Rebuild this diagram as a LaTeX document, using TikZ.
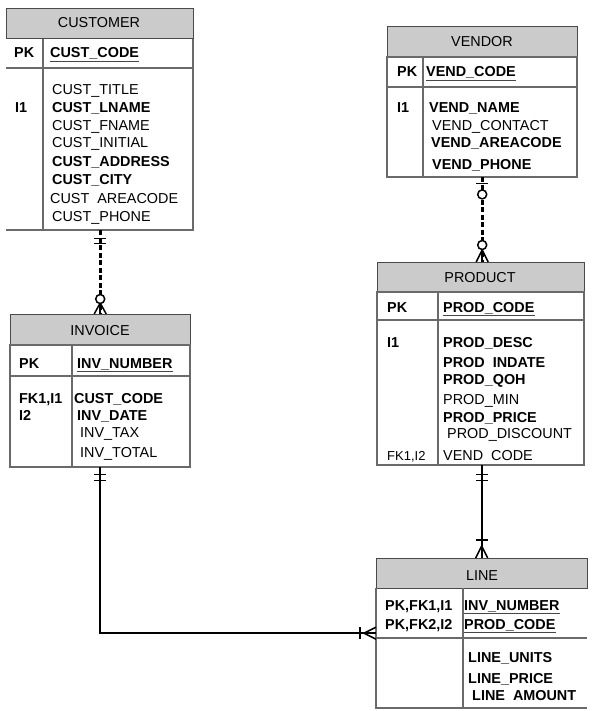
\documentclass[tikz,border=0pt]{standalone}
\usepackage{fontspec}
\setmainfont{Liberation Sans}
\usetikzlibrary{calc}
\definecolor{hdrfill}{HTML}{CBCBCB}
\definecolor{bordc}{HTML}{6A6A6A}
\definecolor{hdrb}{HTML}{4A4A4A}
\begin{document}
\begin{tikzpicture}[x=1pt,y=-1pt,
  fld/.style={anchor=base west, inner sep=0pt, font=\fontsize{14.4}{16}\selectfont},
  bfld/.style={anchor=base west, inner sep=0pt, font=\fontsize{14.4}{16}\selectfont\bfseries},
  sfld/.style={anchor=base west, inner sep=0pt, font=\fontsize{13}{15}\selectfont},
  ttl/.style={anchor=base, inner sep=0pt, font=\fontsize{14.4}{16}\selectfont},
  tframe/.style={draw=none, inner sep=0pt, anchor=north west},
  hdr/.style={fill=hdrfill, draw=hdrb, line width=1pt},
  bord/.style={draw=bordc, line width=1.1pt},
  uline/.style={draw=gray!55!black, line width=1.8pt},
  conn/.style={draw=black, line width=2.4pt},
  dconn/.style={draw=black, line width=2.6pt, dash pattern=on 5pt off 2.5pt},
  mk/.style={draw=black, line width=1.5pt},
  ring/.style={draw=black, line width=1.5pt, fill=white},
  ]
\useasboundingbox[fill=white] (0,0) rectangle (592,711);

% ---------- frames (for connectors) ----------
\node[tframe, minimum width=187pt, minimum height=221pt] (customer) at (6,9) {};
\node[tframe, minimum width=190pt, minimum height=150pt] (vendor) at (387,27) {};
\node[tframe, minimum width=207pt, minimum height=203pt] (product) at (377,262) {};
\node[tframe, minimum width=180pt, minimum height=153pt] (invoice) at (10,314) {};
\node[tframe, minimum width=211pt, minimum height=150pt] (line) at (376,558) {};

% ---------- CUSTOMER ----------
\draw[hdr] (6,9) rectangle (193,39);
\draw[bord] (193,39) -- (193,230) -- (6,230);
\draw[bord] (43,39) -- (43,230);
\draw[bord] (6,68) -- (193,68);
\node[ttl] (c-t) at (99,28) {CUSTOMER};
\node[bfld] (c-pk) at (14,58) {PK};
\node[bfld] (c-code) at (50,58) {CUST\_CODE};
\draw[uline] ([yshift=-3.5pt]c-code.base west) -- ([yshift=-3.5pt]c-code.base east);
\node[bfld] (c-i1) at (15,113) {I1};
\node[fld] (c-f1) at (52,95) {CUST\_TITLE};
\node[bfld] (c-f2) at (52,113) {CUST\_LNAME};
\node[fld] (c-f3) at (52,131) {CUST\_FNAME};
\node[fld] (c-f4) at (52,148) {CUST\_INITIAL};
\node[bfld] (c-f5) at (52,167) {CUST\_ADDRESS};
\node[bfld] (c-f6) at (52,185) {CUST\_CITY};
\node[fld] (c-f7) at (50,204) {CUST\ \ AREACODE};
\node[fld] (c-f8) at (52,222) {CUST\_PHONE};

% ---------- VENDOR ----------
\draw[hdr] (387,27) rectangle (577,57);
\draw[bord] (387,57) rectangle (577,177);
\draw[bord] (423,57) -- (423,177);
\draw[bord] (387,87) -- (577,87);
\node[ttl] (v-t) at (482,47) {VENDOR};
\node[bfld] (v-pk) at (397,77) {PK};
\node[bfld] (v-code) at (426,77) {VEND\_CODE};
\draw[uline] ([yshift=-3.5pt]v-code.base west) -- ([yshift=-3.5pt]v-code.base east);
\node[bfld] (v-i1) at (397,113) {I1};
\node[bfld] (v-f1) at (429,113) {VEND\_NAME};
\node[fld] (v-f2) at (432,131) {VEND\_CONTACT};
\node[bfld] (v-f3) at (431,148) {VEND\_AREACODE};
\node[bfld] (v-f4) at (432,170) {VEND\_PHONE};

% ---------- PRODUCT ----------
\draw[hdr] (377,262) rectangle (584,292);
\draw[bord] (377,292) rectangle (584,465);
\draw[bord] (438,292) -- (438,465);
\draw[bord] (377,320) -- (584,320);
\node[ttl] (p-t) at (480,282) {PRODUCT};
\node[bfld] (p-pk) at (387,312) {PK};
\node[bfld] (p-code) at (443,312) {PROD\_CODE};
\draw[uline] ([yshift=-3.5pt]p-code.base west) -- ([yshift=-3.5pt]p-code.base east);
\node[bfld] (p-i1) at (387,347) {I1};
\node[bfld] (p-f1) at (443,347) {PROD\_DESC};
\node[bfld] (p-f2) at (443,367) {PROD\ \ INDATE};
\node[bfld] (p-f3) at (443,384) {PROD\_QOH};
\node[fld] (p-f4) at (443,404) {PROD\_MIN};
\node[bfld] (p-f5) at (443,422) {PROD\_PRICE};
\node[fld] (p-f6) at (447,438) {PROD\_DISCOUNT};
\node[sfld] (p-fk) at (387,460) {FK1,I2};
\node[fld] (p-f7) at (443,460) {VEND\ \ CODE};

% ---------- INVOICE ----------
\draw[hdr] (10,314) rectangle (190,345);
\draw[bord] (10,345) rectangle (190,467);
\draw[bord] (72,345) -- (72,467);
\draw[bord] (10,376) -- (190,376);
\node[ttl] (i-t) at (100,335) {INVOICE};
\node[bfld] (i-pk) at (19,368) {PK};
\node[bfld] (i-code) at (77,368) {INV\_NUMBER};
\draw[uline] ([yshift=-3.5pt]i-code.base west) -- ([yshift=-3.5pt]i-code.base east);
\node[bfld] (i-fk) at (19,403) {FK1,I1};
\node[bfld] (i-i2) at (19,420) {I2};
\node[bfld] (i-f1) at (74,403) {CUST\_CODE};
\node[bfld] (i-f2) at (77,420) {INV\_DATE};
\node[fld] (i-f3) at (80,437) {INV\_TAX};
\node[fld] (i-f4) at (80,457) {INV\_TOTAL};

% ---------- LINE ----------
\draw[hdr] (376,558) rectangle (587,588);
\draw[bord] (376,588) -- (376,708) -- (587,708);
\draw[bord] (463,588) -- (463,708);
\draw[bord] (376,638) -- (587,638);
\node[ttl] (l-t) at (482,580) {LINE};
\node[bfld] (l-pk1) at (385,610) {PK,FK1,I1};
\node[bfld] (l-pk2) at (385,629) {PK,FK2,I2};
\node[bfld] (l-k1) at (464,610) {INV\_NUMBER};
\node[bfld] (l-k2) at (464,629) {PROD\_CODE};
\draw[uline] ([yshift=-3.5pt]l-k1.base west) -- ([yshift=-3.5pt]l-k1.base east);
\draw[uline] ([yshift=-3.5pt]l-k2.base west) -- ([yshift=-3.5pt]l-k2.base east);
\node[bfld] (l-f1) at (468,662) {LINE\_UNITS};
\node[bfld] (l-f2) at (468,683) {LINE\_PRICE};
\node[bfld] (l-f3) at (472,700) {LINE\ \ AMOUNT};

% ---------- CUSTOMER -- INVOICE ----------
\coordinate (ci-a) at (invoice.north |- customer.south);
\draw[dconn] (ci-a) -- (invoice.north);
\draw[mk] ($(ci-a)+(-6,8)$) -- ++(12,0);
\draw[mk] ($(ci-a)+(-6,13)$) -- ++(12,0);
\draw[mk] ($(invoice.north)+(-6,0)$) -- ($(invoice.north)+(0,-11)$) -- ($(invoice.north)+(6,0)$);
\draw[mk] ($(invoice.north)+(0,-11)$) -- (invoice.north);
\draw[ring] ($(invoice.north)+(0,-15)$) circle[radius=4.5pt];

% ---------- VENDOR -- PRODUCT ----------
\coordinate (vp-b) at (vendor.south |- product.north);
\draw[dconn] (vendor.south) -- (vp-b);
\draw[mk] ($(vendor.south)+(-6,6)$) -- ++(12,0);
\draw[ring] ($(vendor.south)+(0,17)$) circle[radius=4.5pt];
\draw[mk] ($(vp-b)+(-6,0)$) -- ($(vp-b)+(0,-12)$) -- ($(vp-b)+(6,0)$);
\draw[mk] ($(vp-b)+(0,-12)$) -- (vp-b);
\draw[ring] ($(vp-b)+(0,-17)$) circle[radius=4.5pt];

% ---------- PRODUCT -- LINE ----------
\coordinate (pl-a) at (line.north |- product.south);
\draw[conn] (pl-a) -- (line.north);
\draw[mk] ($(pl-a)+(-6,9)$) -- ++(12,0);
\draw[mk] ($(pl-a)+(-6,15)$) -- ++(12,0);
\draw[mk] ($(line.north)+(-6,-18)$) -- ++(12,0);
\draw[mk] ($(line.north)+(-6,0)$) -- ($(line.north)+(0,-12)$) -- ($(line.north)+(6,0)$);

% ---------- INVOICE -- LINE ----------
\draw[conn] (invoice.south) |- (line.west);
\draw[mk] ($(invoice.south)+(-6,7)$) -- ++(12,0);
\draw[mk] ($(invoice.south)+(-6,13)$) -- ++(12,0);
\draw[mk] ($(line.west)+(-16,-6)$) -- ++(0,12);
\draw[mk] ($(line.west)+(0,-6)$) -- ($(line.west)+(-12,0)$) -- ($(line.west)+(0,6)$);
\end{tikzpicture}
\end{document}
